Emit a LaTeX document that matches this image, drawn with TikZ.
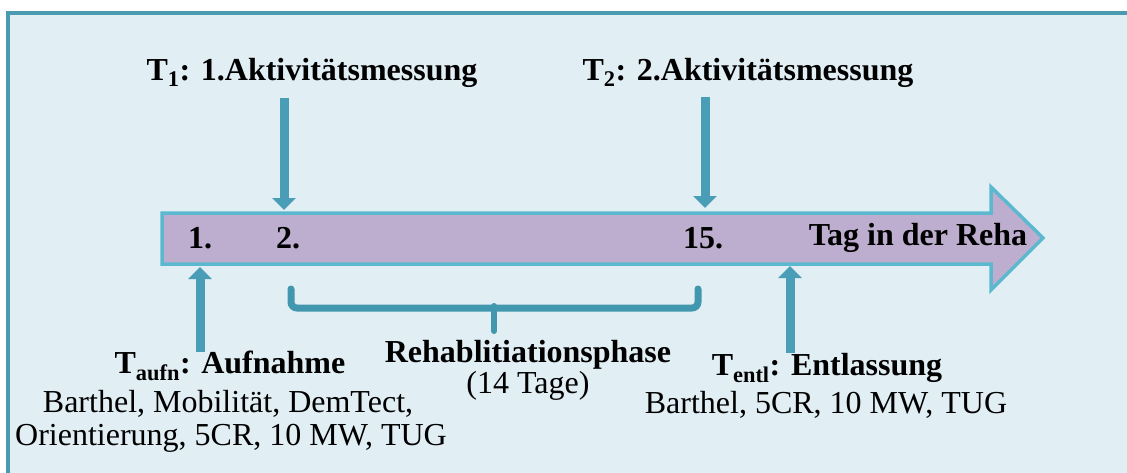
\documentclass[tikz,border=0pt]{standalone}
\usepackage{fontspec}
\setmainfont{Liberation Serif}
\usetikzlibrary{arrows.meta}
\definecolor{bgblue}{HTML}{E1EEF4}
\definecolor{frameteal}{HTML}{4A9AB0}
\definecolor{arrteal}{HTML}{4A9DB6}
\definecolor{lav}{HTML}{BDADCE}
\definecolor{lavedge}{HTML}{5BB8CF}
\definecolor{bracecol}{HTML}{4097AE}
\tikzset{
  txt/.style={inner sep=0pt, font=\fontsize{32}{38}\selectfont, text=black},
  btxt/.style={txt, font=\fontsize{32}{38}\selectfont\bfseries},
  marker/.style={draw=arrteal!80!white, line width=1.5pt, fill=arrteal},
  pointer/.style={arrteal, line width=9pt, -{Triangle[width=23pt,length=12pt]}},
}
\begin{document}
\begin{tikzpicture}[x=1pt,y=-1pt]
\useasboundingbox (0,0) rectangle (1127,472);
\fill[white] (0,0) rectangle (1127,472);
% frame
\draw[frameteal, line width=4pt, fill=bgblue] (8,13) rectangle (1140,490);
% timeline arrow
\draw[lavedge, line width=3.5pt, fill=lav, line join=miter]
  (162,213) -- (991,213) -- (991,187) -- (1043,238) -- (991,290) -- (991,264) -- (162,264) -- cycle;
% day labels
\node[btxt] (d1) at (200,238) {1.};
\node[btxt] (d2) at (288,238) {2.};
\node[btxt] (d15) at (703,238) {15.};
\node[btxt] (tag) at (918,238) {Tag in der Reha};
% top labels
\node[btxt] (t1) at (312,73) {T\textsubscript{1}: 1.Aktivitätsmessung};
\node[btxt] (t2) at (748,73) {T\textsubscript{2}: 2.Aktivitätsmessung};
% arrow ends
\coordinate (t1s) at (284,98);
\coordinate (t1e) at (284,210);
\coordinate (t2s) at (705,97);
\coordinate (t2e) at (705,208);
\coordinate (tas) at (200,352);
\coordinate (tae) at (200,267);
\coordinate (tes) at (790,353);
\coordinate (tee) at (790,266);
\draw[pointer] (t1s) -- (t1e);
\draw[pointer] (t2s) -- (t2e);
\draw[pointer] (tas) -- (tae);
\draw[pointer] (tes) -- (tee);
% brace
\coordinate (bl) at (291,289);
\coordinate (br) at (698,289);
\coordinate (bm) at (494,331);
\draw[bracecol, line width=7pt, line cap=round, rounded corners=6pt]
  (bl) -- (291,308) -- (698,308) -- (br);
\draw[bracecol, line width=6pt, line cap=round] (494,306) -- (bm);
% bottom labels
\node[btxt] (reha) at (528,355) {Rehablitiationsphase};
\node[txt] (tage) at (528,386) {(14 Tage)};
\node[btxt] (aufn) at (230,366) {T\textsubscript{aufn}: Aufnahme};
\node[txt] (aufn1) at (228,404) {Barthel, Mobilität, DemTect,};
\node[txt] (aufn2) at (231,438) {Orientierung, 5CR, 10 MW, TUG};
\node[btxt] (entl) at (827,368) {T\textsubscript{entl}: Entlassung};
\node[txt] (entl1) at (826,405) {Barthel, 5CR, 10 MW, TUG};
\end{tikzpicture}
\end{document}
